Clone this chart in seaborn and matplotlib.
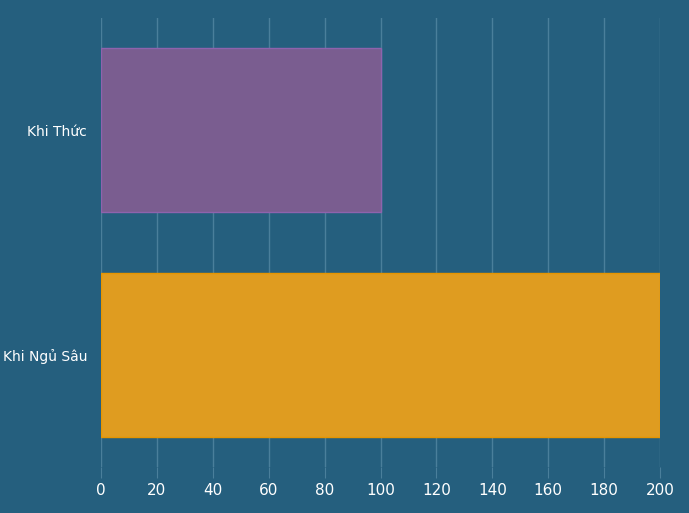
import matplotlib
matplotlib.use("Agg")
import matplotlib.pyplot as plt
import pandas as pd
import seaborn as sns

categories = ["Khi Thức", "Khi Ngủ Sâu"]
values = [100, 200]
bar_colors = ["#7b5499", "#ffa500"]
edge_colors = ["#8e63ad", "#e69500"]
bg = "#255f7e"

df = pd.DataFrame({"label": categories, "value": values})

fig = plt.figure(figsize=(6.89, 5.13), dpi=100, facecolor=bg)
ax = fig.add_axes([0.1466, 0.0897, 0.8114, 0.8753])
ax.set_facecolor(bg)

sns.barplot(data=df, x="value", y="label", hue="label", palette=bar_colors,
            width=0.73, legend=False, ax=ax, zorder=2)
for patch, ec in zip(ax.patches, edge_colors):
    patch.set_edgecolor(ec)
    patch.set_linewidth(1)

ax.set_xlim(0, 200)
ax.set_xticks(range(0, 201, 20))
ax.grid(axis="x", color="#4a7f9b", linewidth=1, zorder=0)
ax.grid(axis="y", visible=False)
for s in ax.spines.values():
    s.set_visible(False)
ax.tick_params(axis="x", colors="#4a7f9b", labelcolor="white", labelsize=11, length=8)
ax.tick_params(axis="y", length=0, labelcolor="white", labelsize=10, pad=10)
ax.set_xlabel("")
ax.set_ylabel("")

fig.savefig("out.png", dpi=100, facecolor=bg)
